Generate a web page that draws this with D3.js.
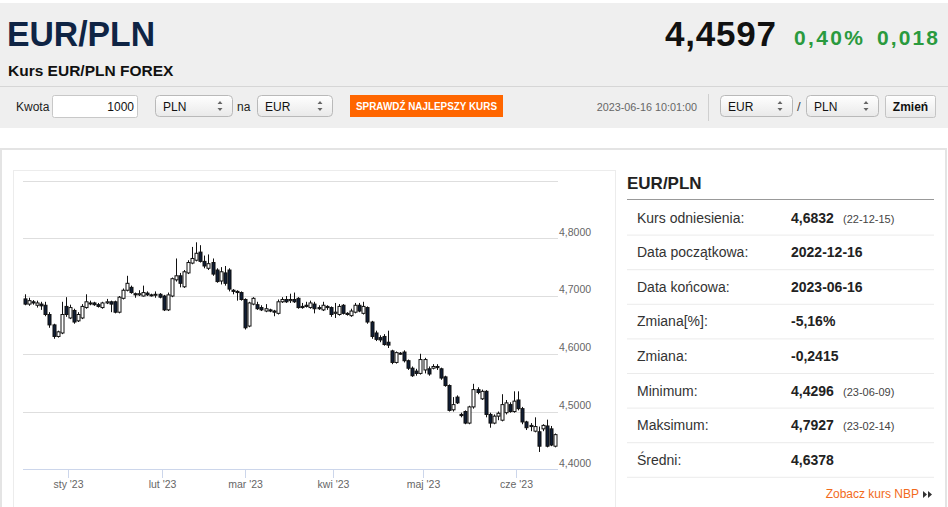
<!DOCTYPE html>
<html><head><meta charset="utf-8">
<script src="https://cdn.jsdelivr.net/npm/d3@7"></script>
<style>
body{margin:0;background:#fff}
svg{display:block}
text{font-family:"Liberation Sans",Arial,sans-serif}
</style></head><body>
<svg id="c" width="948" height="507"></svg>
<script>
// ---------- data ----------
const pair = "EUR/PLN";
const subtitle = "Kurs EUR/PLN FOREX";
const lastPrice = "4,4597";
const changePct = "0,40%";
const changeAbs = "0,018";
const timestamp = "2023-06-16 10:01:00";

const opens = [4.695,4.686,4.690,4.684,4.686,4.684,4.668,4.650,4.630,4.636,4.682,4.662,4.675,4.657,4.662,4.680,4.688,4.688,4.685,4.680,4.688,4.690,4.690,4.672,4.696,4.710,4.715,4.704,4.702,4.700,4.705,4.702,4.702,4.703,4.700,4.676,4.700,4.728,4.735,4.716,4.740,4.757,4.762,4.776,4.760,4.748,4.758,4.745,4.726,4.740,4.745,4.710,4.708,4.706,4.694,4.648,4.686,4.685,4.680,4.674,4.676,4.674,4.670,4.690,4.694,4.692,4.694,4.696,4.682,4.684,4.680,4.686,4.680,4.676,4.682,4.680,4.670,4.668,4.684,4.670,4.666,4.672,4.684,4.670,4.680,4.655,4.636,4.628,4.630,4.620,4.605,4.585,4.600,4.603,4.588,4.575,4.570,4.566,4.572,4.574,4.575,4.578,4.574,4.560,4.545,4.503,4.525,4.495,4.500,4.480,4.508,4.538,4.522,4.535,4.495,4.480,4.492,4.485,4.498,4.512,4.500,4.520,4.505,4.482,4.476,4.466,4.465,4.470,4.475,4.470,4.440];
const highs = [4.703,4.697,4.693,4.692,4.690,4.690,4.672,4.652,4.640,4.690,4.698,4.685,4.678,4.672,4.686,4.703,4.692,4.690,4.688,4.690,4.695,4.692,4.692,4.700,4.713,4.735,4.718,4.706,4.710,4.718,4.708,4.704,4.708,4.705,4.702,4.706,4.732,4.765,4.740,4.745,4.762,4.785,4.793,4.788,4.770,4.772,4.765,4.748,4.750,4.752,4.748,4.712,4.710,4.708,4.696,4.690,4.698,4.690,4.684,4.686,4.678,4.676,4.694,4.698,4.700,4.704,4.706,4.698,4.688,4.690,4.692,4.690,4.684,4.690,4.684,4.682,4.688,4.686,4.686,4.672,4.678,4.688,4.688,4.690,4.682,4.657,4.640,4.632,4.634,4.640,4.607,4.604,4.603,4.606,4.590,4.578,4.574,4.600,4.593,4.578,4.582,4.582,4.576,4.562,4.547,4.525,4.528,4.498,4.502,4.510,4.548,4.542,4.538,4.537,4.498,4.495,4.500,4.530,4.520,4.516,4.535,4.535,4.508,4.484,4.480,4.490,4.474,4.478,4.486,4.475,4.462];
const lows = [4.684,4.683,4.685,4.680,4.676,4.665,4.645,4.626,4.628,4.634,4.664,4.660,4.652,4.655,4.660,4.678,4.684,4.683,4.680,4.678,4.686,4.672,4.670,4.670,4.694,4.708,4.704,4.697,4.700,4.699,4.700,4.699,4.697,4.696,4.674,4.674,4.698,4.725,4.715,4.714,4.738,4.755,4.760,4.758,4.748,4.745,4.735,4.723,4.720,4.718,4.708,4.703,4.692,4.692,4.642,4.646,4.684,4.676,4.674,4.672,4.672,4.665,4.668,4.688,4.688,4.688,4.688,4.678,4.678,4.680,4.678,4.670,4.676,4.674,4.676,4.664,4.662,4.666,4.668,4.666,4.664,4.670,4.672,4.668,4.652,4.626,4.622,4.620,4.614,4.610,4.582,4.583,4.598,4.585,4.572,4.560,4.562,4.564,4.566,4.562,4.573,4.572,4.555,4.543,4.500,4.500,4.513,4.490,4.478,4.478,4.505,4.530,4.520,4.490,4.472,4.478,4.485,4.483,4.495,4.498,4.498,4.502,4.478,4.468,4.466,4.464,4.430,4.466,4.438,4.440,4.438];
const closes = [4.686,4.692,4.688,4.688,4.683,4.668,4.650,4.630,4.638,4.668,4.668,4.680,4.655,4.668,4.682,4.690,4.687,4.685,4.682,4.688,4.690,4.686,4.672,4.698,4.710,4.722,4.706,4.702,4.704,4.706,4.702,4.701,4.703,4.698,4.676,4.702,4.730,4.735,4.722,4.742,4.758,4.765,4.774,4.760,4.752,4.756,4.738,4.725,4.742,4.722,4.712,4.708,4.706,4.694,4.645,4.688,4.696,4.678,4.676,4.678,4.674,4.672,4.690,4.694,4.690,4.694,4.690,4.680,4.680,4.682,4.688,4.678,4.678,4.684,4.680,4.668,4.672,4.682,4.670,4.668,4.674,4.684,4.674,4.682,4.655,4.630,4.625,4.624,4.616,4.615,4.585,4.602,4.601,4.588,4.575,4.562,4.566,4.590,4.590,4.565,4.578,4.576,4.558,4.545,4.502,4.512,4.515,4.493,4.480,4.508,4.538,4.533,4.535,4.495,4.480,4.492,4.497,4.512,4.515,4.500,4.518,4.505,4.482,4.472,4.474,4.474,4.440,4.476,4.440,4.442,4.460];

const yTickValues = [4.4, 4.5, 4.6, 4.7, 4.8, 4.9];
const yLabelValues = [4.4, 4.5, 4.6, 4.7, 4.8];
const monthLabels = ["sty '23","lut '23","mar '23","kwi '23","maj '23","cze '23"];
const monthTickIdx = [10.5, 33.5, 54, 75.5, 97.5, 120.5];

const statLabels = ["Kurs odniesienia:","Data początkowa:","Data końcowa:","Zmiana[%]:","Zmiana:","Minimum:","Maksimum:","Średni:"];
const statValues = ["4,6832","2022-12-16","2023-06-16","-5,16%","-0,2415","4,4296","4,7927","4,6378"];
const statDates  = ["(22-12-15)","","","","","(23-06-09)","(23-02-14)",""];

// ---------- drawing ----------
const svg = d3.select("#c");

// header background
svg.append("rect").attr("x",0).attr("y",3).attr("width",948).attr("height",125).attr("fill","#efefef");
svg.append("line").attr("x1",0).attr("x2",948).attr("y1",86.5).attr("y2",86.5).attr("stroke","#d6d6d6");

svg.append("text").attr("x",7).attr("y",46).attr("font-size",35).attr("fill","#0f2444").attr("font-weight",600)
  .attr("font-family","'Open Sans','Liberation Sans',Arial,sans-serif")
  .attr("textLength",148).attr("lengthAdjust","spacingAndGlyphs").text(pair);
svg.append("text").attr("x",8).attr("y",76).attr("font-size",15.5).attr("font-weight","bold").attr("fill","#111").text(subtitle);

svg.append("text").attr("x",776).attr("y",46).attr("text-anchor","end").attr("font-size",35).attr("font-weight","bold").attr("fill","#111")
  .attr("textLength",111).text(lastPrice);
svg.append("text").attr("x",794).attr("y",45).attr("font-size",21).attr("font-weight","bold").attr("fill","#2a9a3e")
  .attr("font-family","'DejaVu Sans',Verdana,sans-serif").attr("textLength",69).text(changePct);
svg.append("text").attr("x",877).attr("y",45).attr("font-size",21).attr("font-weight","bold").attr("fill","#2a9a3e")
  .attr("font-family","'DejaVu Sans',Verdana,sans-serif").attr("textLength",61).text(changeAbs);

// controls
svg.append("text").attr("x",16).attr("y",111).attr("font-size",12).attr("fill","#222").text("Kwota");
svg.append("rect").attr("x",52.5).attr("y",95.5).attr("width",85).attr("height",22).attr("rx",2).attr("fill","#fff").attr("stroke","#c8c8c8");
svg.append("text").attr("x",134).attr("y",111).attr("text-anchor","end").attr("font-size",12).attr("fill","#111").text("1000");

const defs = svg.append("defs");
const g1 = defs.append("linearGradient").attr("id","sel").attr("x1",0).attr("x2",0).attr("y1",0).attr("y2",1);
g1.append("stop").attr("offset","0").attr("stop-color","#ffffff");
g1.append("stop").attr("offset","1").attr("stop-color","#e9e9e9");

function selectBox(x, w, label){
  svg.append("rect").attr("x",x+0.5).attr("y",95.5).attr("width",w).attr("height",21).attr("rx",4)
    .attr("fill","url(#sel)").attr("stroke","#b9b9b9");
  svg.append("text").attr("x",x+8).attr("y",110.5).attr("font-size",12).attr("fill","#111").text(label);
  const ax = x + w - 12;
  svg.append("path").attr("d",`M${ax-2.5},104 L${ax},101 L${ax+2.5},104 Z M${ax-2.5},108 L${ax},111 L${ax+2.5},108 Z`).attr("fill","#666");
}
selectBox(155, 77, "PLN");
svg.append("text").attr("x",237).attr("y",110.5).attr("font-size",12).attr("fill","#222").text("na");
selectBox(257, 75, "EUR");

svg.append("rect").attr("x",350).attr("y",95).attr("width",153).attr("height",22).attr("fill","#ff6600");
svg.append("text").attr("x",426.5).attr("y",110).attr("text-anchor","middle").attr("font-size",11.5).attr("font-weight","bold")
  .attr("fill","#fff").attr("font-family","'Liberation Sans Narrow','Arial Narrow',Arial,sans-serif")
  .attr("textLength",141).attr("lengthAdjust","spacingAndGlyphs").text("SPRAWDŹ NAJLEPSZY KURS");

svg.append("text").attr("x",697).attr("y",111).attr("text-anchor","end").attr("font-size",10.8).attr("fill","#666").text(timestamp);
svg.append("line").attr("x1",708.5).attr("x2",708.5).attr("y1",94).attr("y2",121).attr("stroke","#cfcfcf");
selectBox(720, 72, "EUR");
svg.append("text").attr("x",797).attr("y",111).attr("font-size",13).attr("fill","#444").text("/");
selectBox(806, 72, "PLN");
svg.append("rect").attr("x",885.5).attr("y",95.5).attr("width",50).attr("height",22).attr("rx",2).attr("fill","url(#sel)").attr("stroke","#c4c4c4");
svg.append("text").attr("x",910.5).attr("y",111).attr("text-anchor","middle").attr("font-size",12).attr("font-weight","bold").attr("fill","#111").text("Zmień");

// content boxes
svg.append("rect").attr("x",1).attr("y",149).attr("width",945).attr("height",400).attr("fill","#fff").attr("stroke","#e4e4e4").attr("stroke-width",2);
svg.append("rect").attr("x",13.5).attr("y",170.5).attr("width",602).attr("height",400).attr("fill","#fff").attr("stroke","#ececec");

// chart
const x = d3.scaleLinear().domain([0, closes.length-1]).range([25, 555]);
const y = d3.scaleLinear().domain([4.4, 4.9]).range([469.3, 180.5]);
const plotL = 23, plotR = 558;

const grid = svg.append("g");
grid.selectAll("line").data(yTickValues.filter(v=>v>4.4)).join("line")
  .attr("x1",plotL).attr("x2",plotR)
  .attr("y1",d=>Math.round(y(d))+0.5).attr("y2",d=>Math.round(y(d))+0.5)
  .attr("stroke","#dedede");

const yAxis = d3.axisRight(y).tickValues(yLabelValues).tickSize(0).tickPadding(0)
  .tickFormat(d=>d3.format(".4f")(d).replace(".",","));
const ya = svg.append("g").attr("transform",`translate(${plotR+1},0)`).call(yAxis);
ya.select(".domain").remove();
ya.selectAll("text").attr("font-family","'DejaVu Sans',Verdana,sans-serif").attr("font-size",10.5).attr("fill","#666")
  .attr("dy","-0.3em").attr("dx",0);

// x axis
const xa = svg.append("g");
xa.append("line").attr("x1",plotL).attr("x2",plotR).attr("y1",469.5).attr("y2",469.5).attr("stroke","#ccd6eb");
const mt = xa.selectAll("g.mt").data(monthTickIdx.map((d,i)=>({i:d,label:monthLabels[i]}))).join("g").attr("class","mt")
  .attr("transform",d=>`translate(${Math.round(x(d.i))+0.5},0)`);
mt.append("line").attr("y1",470).attr("y2",478).attr("stroke","#ccd6eb");
mt.append("text").attr("y",488).attr("text-anchor","middle").attr("font-family","'DejaVu Sans',Verdana,sans-serif")
  .attr("font-size",10.5).attr("fill","#666").text(d=>d.label);

// candles
const candles = closes.map((c,i)=>({i, o:opens[i], h:highs[i], l:lows[i], c}));
const cg = svg.append("g");
const cs = cg.selectAll("g").data(candles).join("g");
cs.append("line")
  .attr("x1",d=>Math.round(x(d.i))+0.5).attr("x2",d=>Math.round(x(d.i))+0.5)
  .attr("y1",d=>y(d.h)).attr("y2",d=>y(d.l)).attr("stroke","#111").attr("stroke-width",1);
cs.append("rect")
  .attr("x",d=>Math.round(x(d.i))-1)
  .attr("width",3)
  .attr("y",d=>y(Math.max(d.o,d.c)))
  .attr("height",d=>Math.max(1, Math.abs(y(d.o)-y(d.c))))
  .attr("fill",d=>d.c>=d.o ? "#ffffff" : "#0f1d35")
  .attr("stroke","#111").attr("stroke-width",1);

// right panel
const pL = 627, pR = 934;
svg.append("text").attr("x",pL).attr("y",189).attr("font-size",17).attr("font-weight","bold").attr("fill","#222").text(pair);
svg.append("line").attr("x1",pL).attr("x2",pR).attr("y1",199.5).attr("y2",199.5).attr("stroke","#999");
const rowH = 34.6, rowTop = 200;
const rows = svg.append("g").selectAll("g").data(statLabels).join("g")
  .attr("transform",(d,i)=>`translate(0,${rowTop + rowH*i})`);
rows.append("text").attr("x",637).attr("y",22.5).attr("font-size",14).attr("fill","#333").text(d=>d);
rows.append("text").attr("x",791).attr("y",22.5).attr("font-size",14).attr("font-weight","bold").attr("fill","#222").text((d,i)=>statValues[i]);
rows.append("text").attr("x",843).attr("y",22.5).attr("font-size",11).attr("fill","#444").text((d,i)=>statDates[i]);
rows.append("line").attr("x1",pL).attr("x2",pR).attr("y1",rowH+0.5).attr("y2",rowH+0.5).attr("stroke","#ebebeb");

svg.append("text").attr("x",919).attr("y",498).attr("text-anchor","end").attr("font-size",12).attr("fill","#f26a1b").text("Zobacz kurs NBP");
svg.append("path").attr("d","M923,491 L927,494.5 L923,498 Z M928,491 L932,494.5 L928,498 Z").attr("fill","#333");
</script>
</body></html>
